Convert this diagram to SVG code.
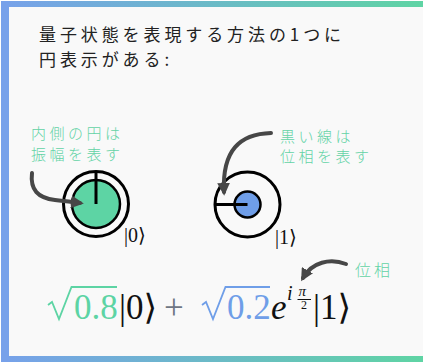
<svg xmlns="http://www.w3.org/2000/svg" width="423" height="364" viewBox="0 0 423 364">
<defs>
<linearGradient id="bar" x1="0" y1="0" x2="1" y2="0">
<stop offset="0" stop-color="#77a1ea"/>
<stop offset="1" stop-color="#5fd4a4"/>
</linearGradient>
<marker id="ah" viewBox="0 0 10 10" refX="7" refY="5" markerWidth="3.2" markerHeight="3.2" orient="auto" markerUnits="strokeWidth">
<path d="M0,0 L10,5 L0,10 Z" fill="#474747"/>
</marker>
<style>
.title{font-family:"Noto Sans CJK JP","Noto Sans",sans-serif;font-size:17px;fill:#222;letter-spacing:3.9px}
.note{font-family:"Noto Sans CJK JP","Noto Sans",sans-serif;font-size:15px;font-weight:300;fill:#63d3a6;letter-spacing:3.5px}
.math{font-family:"Liberation Serif","DejaVu Serif",serif;font-size:35px}
.ket{font-family:"Liberation Serif","DejaVu Serif",serif;font-size:20px;fill:#111}
.arrow{fill:none;stroke:#474747;stroke-width:4;stroke-linecap:round;marker-end:url(#ah)}
.outer{fill:none;stroke:#000;stroke-width:3}
.inner{stroke:#000;stroke-width:2.5}
</style>
</defs>
<rect x="0" y="0" width="423" height="364" fill="#ffffff"/>
<rect x="9" y="7" width="414" height="349" fill="#f9f9f9"/>
<rect x="1" y="1" width="422" height="6" fill="url(#bar)"/>
<rect x="1" y="356" width="422" height="6" fill="url(#bar)"/>
<rect x="1" y="1" width="8" height="361" fill="#77a1ea"/>

<g id="title">
<text class="title" x="39" y="41">量子状態を表現する方法の1つに<tspan x="39" y="66">円表示がある:</tspan></text>
</g>

<g id="state0">
<circle class="outer" cx="96" cy="204" r="32.5"/>
<circle class="inner" cx="96" cy="204" r="24" fill="#5dd4a4"/>
<line x1="96" y1="172" x2="96" y2="204" stroke="#000" stroke-width="3"/>
<text class="ket" x="124" y="242">|0⟩</text>
</g>

<g id="state1">
<circle class="outer" cx="247.5" cy="204.5" r="32.5"/>
<circle class="inner" cx="247.5" cy="204.5" r="13" fill="#6f9ee8"/>
<line x1="215" y1="204.5" x2="247.5" y2="204.5" stroke="#000" stroke-width="3"/>
<text class="ket" x="275" y="244">|1⟩</text>
</g>

<g id="label-amplitude">
<text class="note" x="31" y="139">内側の円は<tspan x="31" y="160">振幅を表す</tspan></text>
</g>

<g id="label-phase">
<text class="note" x="280" y="142">黒い線は<tspan x="280" y="162">位相を表す</tspan></text>
</g>

<g id="label-phase2">
<text class="note" x="355" y="276" style="font-size:16px;letter-spacing:3px">位相</text>
</g>

<g id="formula">
<path d="M48,305 L52,302 L59,319 L71.5,287 H117" fill="none" stroke="#5dd4a4" stroke-width="1.8"/>
<text class="math" x="74" y="319" fill="#5dd4a4">0.8</text>
<text class="math" x="119" y="319" fill="#111">|0⟩</text>
<text class="math" x="164" y="319" fill="#6f7684">+</text>
<path d="M202,305 L206,302 L213,319 L225.5,287 H270" fill="none" stroke="#6f9ee8" stroke-width="1.8"/>
<text class="math" x="227" y="319" fill="#6f9ee8">0.2</text>
<text class="math" x="271" y="319" fill="#111" font-style="italic">e</text>
<text x="287" y="300" fill="#111" font-family="Liberation Serif, serif" font-size="20" font-style="italic">i</text>
<text x="298.5" y="296" fill="#111" font-family="Liberation Serif, serif" font-size="15" font-style="italic">π</text>
<line x1="297.5" y1="299.5" x2="311" y2="299.5" stroke="#111" stroke-width="1"/>
<text x="301" y="309" fill="#111" font-family="Liberation Serif, serif" font-size="12">2</text>
<text class="math" x="313" y="319" fill="#111">|1⟩</text>
</g>

<g id="connectors">
<path class="arrow" d="M32,173 C30,190 38,198 55,200 C65,201 72,202 80,203"/>
<path class="arrow" d="M271,133 C240,134 222,150 224,192"/>
<path class="arrow" d="M346,264 C330,258 312,262 303,278"/>
</g>
</svg>
